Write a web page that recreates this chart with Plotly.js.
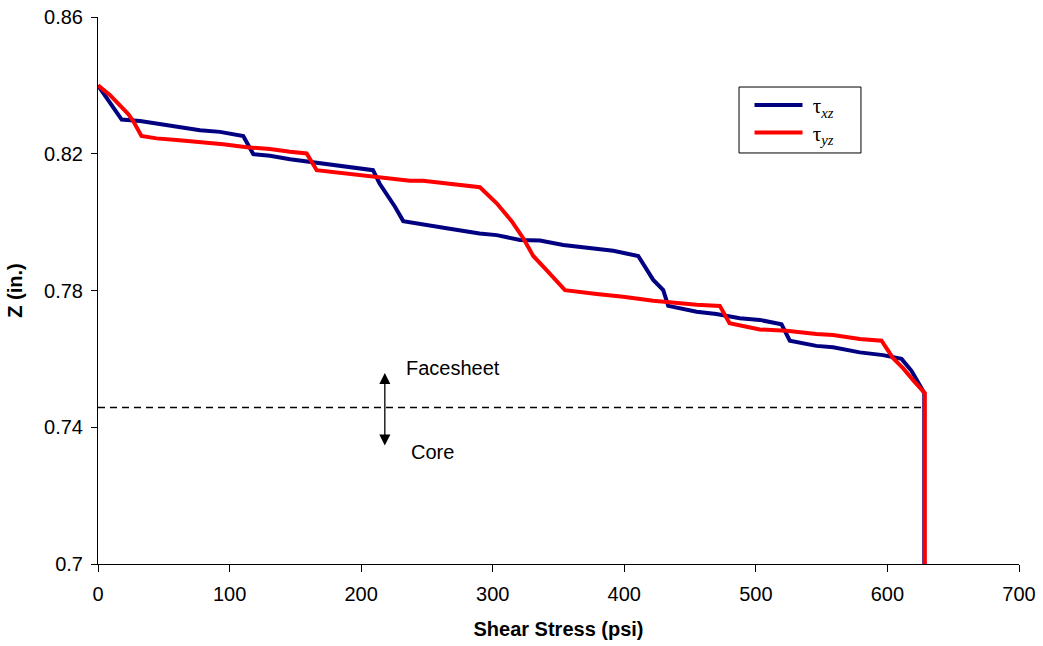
<!DOCTYPE html>
<html>
<head>
<meta charset="utf-8">
<script src="https://cdn.plot.ly/plotly-3.0.1.min.js"></script>
<style>html,body{margin:0;padding:0;background:#fff;}#chart{width:1043px;height:646px;}</style>
</head>
<body>
<div id="chart"></div>
<script>
// Shear stress tau_xz (psi) vs Z (in.)
const txzStress = [0, 18, 32, 52, 65, 77.5, 92.7, 110.4, 118, 130.7, 146, 166, 186.4, 209, 214, 225.7, 232, 252, 265, 290, 303, 320.7, 335.9, 353.6, 366, 391.6, 410.6, 422, 429.6, 433.4, 455, 470, 487.8, 503, 519.5, 525.8, 546, 558.7, 579, 596.7, 610.7, 618.3, 628, 628];
const txzZ = [0.840, 0.830, 0.8296, 0.8284, 0.8279, 0.8269, 0.8264, 0.8252, 0.8199, 0.8194, 0.8184, 0.8174, 0.8164, 0.8152, 0.8113, 0.8045, 0.8003, 0.7989, 0.7982, 0.7967, 0.7962, 0.7948, 0.7946, 0.7933, 0.7928, 0.7916, 0.7901, 0.7831, 0.7801, 0.7755, 0.7738, 0.7731, 0.7719, 0.7714, 0.7701, 0.7653, 0.7638, 0.7634, 0.7619, 0.7611, 0.7600, 0.7565, 0.750, 0.700];

// Shear stress tau_yz (psi) vs Z (in.)
const tyzStress = [0, 9, 23, 27, 33, 44.5, 59.7, 77.5, 95.2, 113, 130.7, 146, 158.6, 166.2, 194, 209, 237, 247, 272.5, 290.3, 303, 314.4, 323.2, 330.8, 342, 354.9, 379, 399.2, 422, 455, 472.6, 480, 503, 523.3, 546, 558.7, 579, 595.5, 604.3, 612, 619.5, 628.4, 628.4];
const tyzZ = [0.840, 0.8372, 0.8316, 0.8294, 0.8252, 0.8245, 0.8240, 0.8235, 0.8228, 0.8219, 0.8214, 0.8206, 0.8201, 0.8152, 0.8140, 0.8133, 0.8121, 0.8121, 0.8109, 0.8102, 0.8055, 0.8003, 0.7953, 0.7901, 0.7855, 0.7801, 0.7790, 0.7782, 0.7770, 0.7758, 0.7755, 0.7704, 0.7686, 0.7682, 0.7673, 0.7670, 0.7658, 0.7653, 0.7602, 0.7572, 0.7538, 0.7500, 0.700];

// Facesheet / core interface
const interfaceStress = [0, 628];
const interfaceZ = [0.7458, 0.7458];

// Arrow and labels
const arrowX = 218, arrowTopZ = 0.7559, arrowBottomZ = 0.7342;
const faceLabel = {text: 'Facesheet', x: 270, z: 0.7573};
const coreLabel = {text: 'Core', x: 254, z: 0.7328};

const yTickVals = [0.70, 0.74, 0.78, 0.82, 0.86];
const yTickText = ['0.7', '0.74', '0.78', '0.82', '0.86'];
const xTickVals = [0, 100, 200, 300, 400, 500, 600, 700];

const sans = 'Liberation Sans, Arial, sans-serif';
const serif = 'Liberation Serif, Times New Roman, serif';

const traces = [
  {x: interfaceStress, y: interfaceZ, mode: 'lines', showlegend: false, hoverinfo: 'skip',
   line: {color: '#000000', width: 1.5, dash: '7px,5px'}},
  {x: txzStress, y: txzZ, mode: 'lines', name: '\u00a0τ<sub><i>xz</i></sub>', legend: 'legend',
   line: {color: '#000080', width: 4}},
  {x: tyzStress, y: tyzZ, mode: 'lines', name: '\u00a0τ<sub><i>yz</i></sub>', legend: 'legend2',
   line: {color: '#FF0000', width: 4}}
];

const legendCommon = {
  xanchor: 'left', yanchor: 'top', bgcolor: 'rgba(0,0,0,0)', borderwidth: 0,
  font: {family: serif, size: 21, color: '#000'}, itemwidth: 48
};

const layout = {
  width: 1043, height: 646,
  margin: {l: 98, r: 24, t: 17, b: 82, pad: 0},
  paper_bgcolor: '#ffffff', plot_bgcolor: '#ffffff',
  font: {family: sans, size: 20, color: '#000000'},
  xaxis: {
    range: [0, 700], tickvals: xTickVals, ticks: 'outside', ticklen: 7, tickcolor: '#000', tickwidth: 1,
    showline: true, linecolor: '#000', linewidth: 1, showgrid: false, zeroline: false,
    tickfont: {family: sans, size: 20}, ticklabelstandoff: 5,
    title: {text: '<b>Shear Stress (psi)</b>', font: {family: sans, size: 20}, standoff: 17}
  },
  yaxis: {
    range: [0.70, 0.86], tickvals: yTickVals, ticktext: yTickText, ticks: 'outside', ticklen: 6, tickcolor: '#000', tickwidth: 1,
    showline: true, linecolor: '#000', linewidth: 1, showgrid: false, zeroline: false,
    tickfont: {family: sans, size: 20}, ticklabelstandoff: 4,
    title: {text: '<b>Z (in.)</b>', font: {family: sans, size: 20}, standoff: 16}
  },
  legend: Object.assign({x: 0.7074, y: 0.8760}, legendCommon),
  legend2: Object.assign({x: 0.7074, y: 0.8258}, legendCommon),
  showlegend: true,
  shapes: [
    {type: 'rect', xref: 'paper', yref: 'paper', x0: 0.696, x1: 0.8284, y0: 0.7514, y1: 0.8720,
     line: {color: '#000', width: 1}, fillcolor: '#ffffff', layer: 'above'}
  ],
  annotations: [
    {x: arrowX, y: arrowTopZ, ax: arrowX, ay: arrowBottomZ, xref: 'x', yref: 'y', axref: 'x', ayref: 'y',
     text: '', showarrow: true, arrowhead: 2, arrowside: 'end+start', arrowsize: 1.7, arrowwidth: 1.3, arrowcolor: '#000'},
    {x: faceLabel.x, y: faceLabel.z, xref: 'x', yref: 'y', text: faceLabel.text, showarrow: false,
     font: {family: sans, size: 20}},
    {x: coreLabel.x, y: coreLabel.z, xref: 'x', yref: 'y', text: coreLabel.text, showarrow: false,
     font: {family: sans, size: 20}}
  ]
};

Plotly.newPlot('chart', traces, layout, {staticPlot: true, displayModeBar: false});
</script>
</body>
</html>
